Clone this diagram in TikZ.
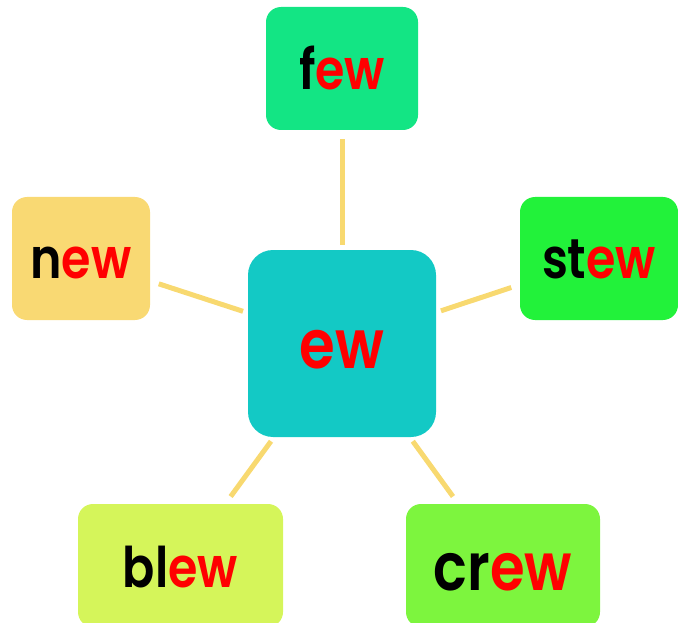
\documentclass[tikz,border=0pt]{standalone}
\usepackage{fontspec}
\setmainfont{Poppins}[FakeStretch=0.85, BoldFont={Poppins SemiBold}]
\definecolor{cfew}{HTML}{13E584}
\definecolor{cnew}{HTML}{F9D973}
\definecolor{cstew}{HTML}{22F23A}
\definecolor{ccenter}{HTML}{13C9C5}
\definecolor{cblew}{HTML}{D5F55A}
\definecolor{ccrew}{HTML}{7DF53E}
\definecolor{cline}{HTML}{F8D970}
\definecolor{cred}{HTML}{FF0000}
\tikzset{
  wordbox/.style={rectangle, rounded corners=15pt, inner sep=0pt, minimum height=123pt,
    font=\bfseries\fontsize{56}{56}\selectfont, text depth=0pt},
  hubbox/.style={rectangle, rounded corners=25pt, inner sep=0pt, fill=ccenter,
    minimum width=188pt, minimum height=187pt, text depth=0pt,
    font=\bfseries\fontsize{68}{68}\selectfont},
  conn/.style={draw=cline, line width=5pt, shorten <=5pt, shorten >=9pt}
}
\newcommand{\rd}[1]{\textcolor{cred}{#1}}
\begin{document}
\begin{tikzpicture}[x=1pt,y=-1pt]
\useasboundingbox (0,0) rectangle (678,623);
\clip (0,0) rectangle (678,623);
\node[hubbox, text height=49pt] (hub) at (342,343.5) {\rd{ew}};
\node[wordbox, fill=cfew, minimum width=152pt, text height=43pt] (few) at (342,68.5) {f\rd{ew}};
\node[wordbox, fill=cnew, minimum width=138pt, text height=40pt] (new) at (81,258.5) {n\rd{ew}};
\node[wordbox, fill=cstew, minimum width=158pt, text height=40pt] (stew) at (599,258.5) {st\rd{ew}};
\node[wordbox, fill=cblew, minimum width=205pt, text height=43pt] (blew) at (180.5,565.5) {bl\rd{ew}};
\node[wordbox, fill=ccrew, minimum width=194pt, text height=49pt, font=\bfseries\fontsize{66}{66}\selectfont] (crew) at (503,565.5) {cr\rd{ew}};
\draw[conn] (hub) -- (few);
\draw[conn] (hub) -- (new);
\draw[conn] (hub) -- (stew);
\draw[conn] (hub) -- (blew);
\draw[conn] (hub) -- (crew);
\end{tikzpicture}
\end{document}
